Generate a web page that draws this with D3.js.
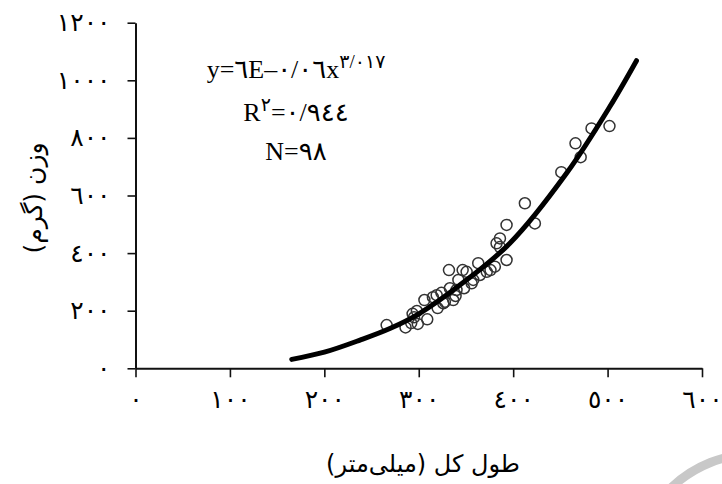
<!DOCTYPE html>
<html>
<head>
<meta charset="utf-8">
<script src="https://cdn.jsdelivr.net/npm/d3@7"></script>
<style>
  html, body { margin: 0; padding: 0; background: #fff; }
  svg { display: block; }
  .eq { unicode-bidi: bidi-override; direction: ltr; }
</style>
</head>
<body>
<svg id="chart" width="722" height="484"></svg>
<script>
// ---- data ----
const lengthMM = [266, 286, 295, 293.5, 309, 292, 299, 298, 306, 315, 324, 326, 327.7, 320, 319,
  336.5, 332, 333, 342, 346.5, 350.7, 348, 339, 340, 356, 357.7, 363, 364.8, 372, 376,
  380.6, 382.4, 386, 386, 393, 393, 412.4, 423, 451, 466, 471.5, 483, 502];
const weightG = [150, 142, 177, 189, 170, 157, 154, 199, 237, 247, 262, 226, 231, 209, 254,
  237, 341, 278, 307, 341, 335, 278, 251, 272, 295, 307, 365, 324, 335, 341,
  353, 434, 451, 421, 498, 376, 573, 503, 681, 781, 733, 833, 841];

// power trend line
const trendX = [165.5, 200, 237.8, 270, 301, 343.6, 396.5, 456.5, 502.3, 530.6];
const trendY = [31, 56, 98, 139, 191, 289, 434, 677, 908, 1068];

const xTickValues = [0, 100, 200, 300, 400, 500, 600];
const xTickLabels = ["٠", "١٠٠", "٢٠٠", "٣٠٠", "٤٠٠", "٥٠٠", "٦٠٠"];
const yTickValues = [0, 200, 400, 600, 800, 1000, 1200];
const yTickLabels = ["٠", "٢٠٠", "٤٠٠", "٦٠٠", "٨٠٠", "١٠٠٠", "١٢٠٠"];

const xTitle = "طول کل (میلی‌متر)";
const yTitle = "وزن (گرم)";
const eqMain = "y=٦E–٠/٠٦x";
const eqExp = "٣/٠١٧";
const r2Label = "R";
const r2Sup = "٢";
const r2Value = "=٠/٩٤٤";
const nLabel = "N=٩٨";

// ---- drawing ----
const svg = d3.select("#chart");
const x = d3.scaleLinear().domain([0, 600]).range([135.5, 702]);
const y = d3.scaleLinear().domain([0, 1200]).range([368.3, 22.7]);

const arabicFont = "'DejaVu Sans', sans-serif";
const serifFont = "'Liberation Serif', 'DejaVu Sans', serif";

// decorative watermark arc
svg.append("circle")
  .attr("cx", 755).attr("cy", 575).attr("r", 121)
  .attr("fill", "none").attr("stroke", "#c8c8c8").attr("stroke-width", 9);

const xAxis = d3.axisBottom(x)
  .tickValues(xTickValues)
  .tickFormat((d, i) => xTickLabels[i])
  .tickSizeInner(9).tickSizeOuter(0).tickPadding(13);
const yAxis = d3.axisLeft(y)
  .tickValues(yTickValues)
  .tickFormat((d, i) => yTickLabels[i])
  .tickSizeInner(8).tickSizeOuter(0).tickPadding(17);

const gx = svg.append("g").attr("transform", `translate(0,${y(0)})`).call(xAxis);
const gy = svg.append("g").attr("transform", `translate(${x(0)},0)`).call(yAxis);

[gx, gy].forEach(g => {
  g.select(".domain").attr("stroke", "#111").attr("stroke-width", 2);
  g.selectAll(".tick line").attr("stroke", "#111").attr("stroke-width", 1.6);
  g.selectAll(".tick text")
    .attr("fill", "#000")
    .style("font-family", arabicFont)
    .style("font-size", "25px");
});

// scatter points
svg.append("g").selectAll("circle")
  .data(lengthMM.map((d, i) => [d, weightG[i]]))
  .join("circle")
  .attr("cx", d => x(d[0]))
  .attr("cy", d => y(d[1]))
  .attr("r", 5.5)
  .attr("fill", "none")
  .attr("stroke", "#333")
  .attr("stroke-width", 1.5);

// trend curve
const line = d3.line()
  .x(d => x(d[0]))
  .y(d => y(d[1]))
  .curve(d3.curveCatmullRom.alpha(0.5));
svg.append("path")
  .datum(trendX.map((d, i) => [d, trendY[i]]))
  .attr("d", line)
  .attr("fill", "none")
  .attr("stroke", "#000")
  .attr("stroke-width", 5)
  .attr("stroke-linecap", "round");

// equation block
const eqX = 296;
const t1 = svg.append("text")
  .attr("class", "eq")
  .attr("x", eqX).attr("y", 78)
  .attr("text-anchor", "middle")
  .style("font-family", serifFont)
  .style("font-size", "26px");
t1.append("tspan").text(eqMain);
t1.append("tspan").attr("dy", -10).style("font-size", "19px").text(eqExp);

const t2 = svg.append("text")
  .attr("class", "eq")
  .attr("x", eqX).attr("y", 121)
  .attr("text-anchor", "middle")
  .style("font-family", serifFont)
  .style("font-size", "26px");
t2.append("tspan").text(r2Label);
t2.append("tspan").attr("dy", -10).style("font-size", "19px").text(r2Sup);
t2.append("tspan").attr("dy", 10).text(r2Value);

svg.append("text")
  .attr("class", "eq")
  .attr("x", eqX).attr("y", 160)
  .attr("text-anchor", "middle")
  .style("font-family", serifFont)
  .style("font-size", "26px")
  .text(nLabel);

// axis titles
svg.append("text")
  .attr("x", 423).attr("y", 472)
  .attr("text-anchor", "middle")
  .style("font-family", arabicFont)
  .style("font-size", "24px")
  .text(xTitle);

svg.append("text")
  .attr("transform", `translate(42,198) rotate(-90)`)
  .attr("text-anchor", "middle")
  .style("font-family", arabicFont)
  .style("font-size", "25px")
  .text(yTitle);
</script>
</body>
</html>
